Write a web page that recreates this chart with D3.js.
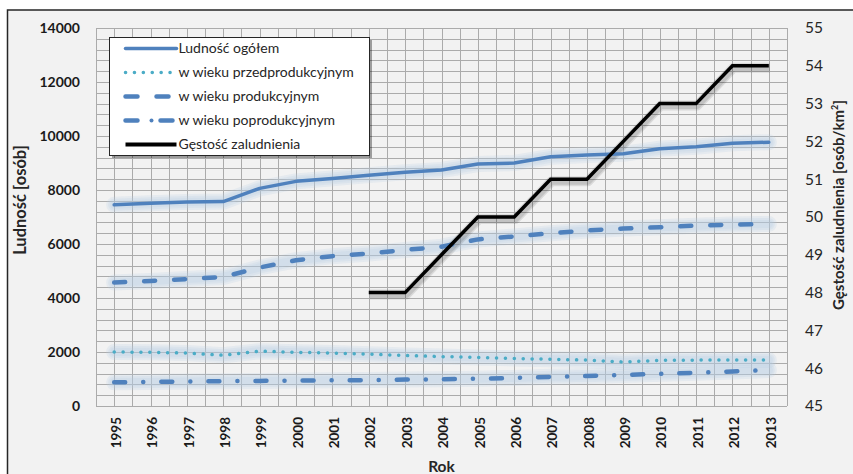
<!DOCTYPE html>
<html>
<head>
<meta charset="utf-8">
<script src="https://cdn.jsdelivr.net/npm/d3@7"></script>
<style>
  body { margin: 0; background: #ffffff; }
  svg { display: block; font-family: Lato, "Open Sans", sans-serif; }
</style>
</head>
<body>
<div id="chart"></div>
<script>
// data
const years = ["1995","1996","1997","1998","1999","2000","2001","2002","2003","2004",
               "2005","2006","2007","2008","2009","2010","2011","2012","2013"];
const ogolem = [7450, 7510, 7560, 7570, 8060, 8320, 8430, 8550, 8660, 8740,
                8960, 9000, 9230, 9300, 9340, 9530, 9600, 9730, 9770];
const przedprod = [2000, 1990, 1960, 1880, 2030, 1990, 1960, 1920, 1870, 1830,
                   1800, 1760, 1730, 1700, 1630, 1690, 1700, 1700, 1700];
const produk = [4570, 4630, 4700, 4780, 5130, 5400, 5550, 5650, 5780, 5900,
                6170, 6280, 6400, 6500, 6570, 6620, 6680, 6720, 6740];
const poprod = [880, 890, 910, 920, 930, 940, 950, 960, 980, 990,
                1010, 1040, 1080, 1110, 1150, 1190, 1230, 1280, 1330];
const gestoscYears = ["2002","2003","2004","2005","2006","2007","2008","2009","2010","2011","2012","2013"];
const gestosc = [48, 48, 49, 50, 50, 51, 51, 52, 53, 53, 54, 54];
const leftTicks = [0, 2000, 4000, 6000, 8000, 10000, 12000, 14000];
const rightTicks = [45, 46, 47, 48, 49, 50, 51, 52, 53, 54, 55];

const W = 853, H = 474;
const plot = {left: 96, right: 787, top: 28, bottom: 406};

const svg = d3.select("#chart").append("svg")
    .attr("width", W)
    .attr("height", H);

// layers, bottom to top
const frameLayer = svg.append("g");
const gridLayer = svg.append("g");
const glowLayer = svg.append("g");
const lineLayer = svg.append("g");
const axisLayer = svg.append("g");
const legendLayer = svg.append("g");

// outer frame
frameLayer.append("rect")
   .attr("x", 7.5).attr("y", 10)
   .attr("width", W + 10).attr("height", H + 10)
   .attr("fill", "#f2f2f2")
   .attr("stroke", "#262626")
   .attr("stroke-width", 1.5);

// scales
const x = d3.scaleBand()
    .domain(years)
    .range([plot.left, plot.right]);
const xc = d => x(d) + x.bandwidth() / 2;

const y = d3.scaleLinear()
    .domain([0, 14000])
    .range([plot.bottom, plot.top]);

const y2 = d3.scaleLinear()
    .domain([45, 55])
    .range([plot.bottom, plot.top]);

// grid (minor every 400 on y, every half category on x)
const hy = d3.range(0, 14001, 400).map(d => Math.round(y(d)) + 0.5);
const vx = d3.range(0, years.length * 2 + 1).map(i => Math.round(plot.left + i * x.bandwidth() / 2) + 0.5);
let gridD = "";
hy.forEach(gy => { gridD += `M${plot.left},${gy}H${plot.right}`; });
vx.forEach(gx => { gridD += `M${gx},${plot.top}V${plot.bottom}`; });
gridLayer.append("path")
   .attr("d", gridD)
   .attr("fill", "none")
   .attr("stroke", "#ababab")
   .attr("stroke-width", 1);

// axes
const yAxis = axisLayer.append("g")
    .attr("transform", `translate(${plot.left - 16},0)`)
    .call(d3.axisLeft(y).tickValues(leftTicks).tickFormat(d3.format("d")).tickSize(0).tickPadding(0));
yAxis.select(".domain").remove();
yAxis.selectAll("text")
     .attr("font-family", "Lato, sans-serif")
     .attr("font-size", 14)
     .attr("font-weight", "bold")
     .attr("fill", "#1a1a1a");

const y2Axis = axisLayer.append("g")
    .attr("transform", `translate(${plot.right + 18},0)`)
    .call(d3.axisRight(y2).tickValues(rightTicks).tickSize(0).tickPadding(0));
y2Axis.select(".domain").remove();
y2Axis.selectAll("text")
      .attr("font-family", "Lato, sans-serif")
      .attr("font-size", 15.5)
      .attr("fill", "#262626");

const xAxis = axisLayer.append("g")
    .attr("transform", `translate(0,${plot.bottom})`)
    .call(d3.axisBottom(x).tickSize(0).tickPadding(0));
xAxis.select(".domain").remove();
xAxis.selectAll("text")
     .attr("font-family", "Lato, sans-serif")
     .attr("font-size", 13.5)
     .attr("font-weight", "bold")
     .attr("fill", "#1a1a1a")
     .attr("transform", "translate(2,11) rotate(-90)")
     .attr("text-anchor", "end")
     .attr("x", 0).attr("y", 0)
     .attr("dy", "0.35em");

// axis titles
axisLayer.append("text")
   .attr("transform", "translate(26,200) rotate(-90)")
   .attr("text-anchor", "middle")
   .attr("font-size", 16.5).attr("font-weight", "bold").attr("fill", "#262626")
   .text("Ludność [osób]");

const t2 = axisLayer.append("text")
   .attr("transform", "translate(844,205) rotate(-90)")
   .attr("text-anchor", "middle")
   .attr("font-size", 15).attr("font-weight", "bold").attr("fill", "#262626");
t2.append("tspan").text("Gęstość zaludnienia [osób/km");
t2.append("tspan").attr("font-size", 9).attr("dy", -6).text("2");
t2.append("tspan").attr("dy", 6).text("]");

axisLayer.append("text")
   .attr("x", (plot.left + plot.right) / 2).attr("y", 472)
   .attr("text-anchor", "middle")
   .attr("font-size", 15.5).attr("font-weight", "bold").attr("fill", "#262626")
   .text("Rok");

// series
const blue = "#4f81bd";
const series = [
    {name: "Ludność ogółem", values: ogolem, color: blue, width: 3.5, dash: null, cap: "round"},
    {name: "w wieku przedprodukcyjnym", values: przedprod, color: "#4bacc6", width: 3.5, dash: "0.1 8.8", cap: "round"},
    {name: "w wieku produkcyjnym", values: produk, color: blue, width: 4.5, dash: "11 19", cap: "round"},
    {name: "w wieku poprodukcyjnym", values: poprod, color: blue, width: 4.5, dash: "11 18 0.1 18", cap: "round"}
];

const line = d3.line()
    .x((d, i) => xc(years[i]))
    .y(d => y(d));

const line2 = d3.line()
    .x((d, i) => xc(gestoscYears[i]))
    .y(d => y2(d));

// soft glow under the blue lines: stacked wide translucent strokes
series.forEach(s => {
    [16, 12, 8].forEach(w => {
        glowLayer.append("path")
           .attr("d", line(s.values))
           .attr("fill", "none")
           .attr("stroke", "#b8cce4")
           .attr("stroke-width", w)
           .attr("stroke-linecap", "round")
           .attr("stroke-linejoin", "round")
           .attr("opacity", 0.22);
    });
});

// shadow under the black line
[10, 7].forEach(w => {
    glowLayer.append("path")
       .attr("d", line2(gestosc))
       .attr("fill", "none")
       .attr("stroke", "#000")
       .attr("stroke-width", w)
       .attr("stroke-linejoin", "round")
       .attr("opacity", 0.1)
       .attr("transform", "translate(1,2)");
});

series.forEach(s => {
    lineLayer.append("path")
       .attr("d", line(s.values))
       .attr("fill", "none")
       .attr("stroke", s.color)
       .attr("stroke-width", s.width)
       .attr("stroke-linecap", s.cap)
       .attr("stroke-linejoin", "round")
       .attr("stroke-dasharray", s.dash);
});

lineLayer.append("path")
   .attr("d", line2(gestosc))
   .attr("fill", "none")
   .attr("stroke", "#000")
   .attr("stroke-width", 3.5)
   .attr("stroke-linejoin", "miter");

// legend
const legendItems = series.concat([{name: "Gęstość zaludnienia", color: "#000", width: 4, dash: null, cap: "butt"}]);
const lg = legendLayer.append("g").attr("transform", "translate(109.5,37.5)");
lg.append("rect")
  .attr("x", 2.5).attr("y", 2.5).attr("width", 260).attr("height", 118)
  .attr("fill", "#000").attr("opacity", 0.35);
lg.append("rect")
  .attr("width", 260).attr("height", 118)
  .attr("fill", "#fff")
  .attr("stroke", "#262626").attr("stroke-width", 1);

const rowY = [11, 35, 59, 83, 107];
legendItems.forEach((s, i) => {
    lg.append("line")
      .attr("x1", 16).attr("x2", 67)
      .attr("y1", rowY[i]).attr("y2", rowY[i])
      .attr("stroke", s.color)
      .attr("stroke-width", s.width)
      .attr("stroke-linecap", s.cap)
      .attr("stroke-dasharray", i === 1 ? "0.1 8.8" : i === 2 ? "12 19" : i === 3 ? "12 23" : null);
    if (i === 3) {
        lg.append("circle").attr("cx", 42).attr("cy", rowY[i]).attr("r", 2).attr("fill", s.color);
    }
    lg.append("text")
      .attr("x", 69).attr("y", rowY[i])
      .attr("dy", "0.35em")
      .attr("font-size", 14)
      .attr("fill", "#262626")
      .text(s.name);
});
</script>
</body>
</html>
